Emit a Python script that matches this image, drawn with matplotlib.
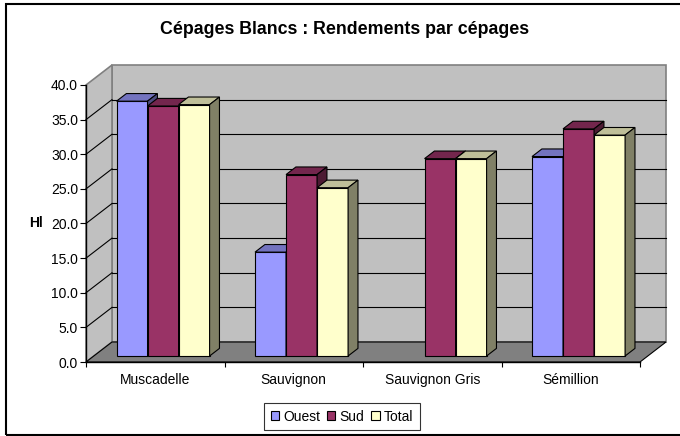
import numpy as np
import matplotlib
matplotlib.use("Agg")
import matplotlib.pyplot as plt
from matplotlib.patches import Polygon, Rectangle, Patch
from matplotlib.transforms import IdentityTransform

plt.rcParams['font.family'] = ['Liberation Sans', 'DejaVu Sans']

# data
categories = ['Muscadelle', 'Sauvignon', 'Sauvignon Gris', 'Sémillion']
series = ['Ouest', 'Sud', 'Total']
ouest = [36.8, 15.0, np.nan, 28.8]
sud = [36.1, 26.2, 28.5, 32.8]
total = [36.3, 24.3, 28.5, 31.9]
yticks = [0, 5, 10, 15, 20, 25, 30, 35, 40]

front_cols = ['#9999FF', '#993366', '#FFFFCC']

# 3d look (pixels, dpi=100)
DX, DY = 26, 20          # depth of the box
F1, F2 = 0.30, 0.68      # bar front / back depth fraction
BW = 0.224               # bar width in category units


def shade(c, k):
    r, g, b = matplotlib.colors.to_rgb(c)
    return (r * k, g * k, b * k)


fig = plt.figure(figsize=(6.8, 4.36), dpi=100)
W, H = 680, 436
ax = fig.add_axes([86 / W, (H - 362) / H, 554 / W, 277 / H])
ax.set_xlim(0, 4)
ax.set_ylim(0, 40)
ax.patch.set_visible(False)

ident = IdentityTransform()


def pt(x, v, f=0.0):
    px, py = ax.transData.transform((x, v))
    return (px + DX * f, py + DY * f)


def poly(pts, fc, ec='black', lw=0.8, z=1):
    ax.add_patch(Polygon(pts, closed=True, facecolor=fc, edgecolor=ec,
                         linewidth=lw, transform=ident, clip_on=False, zorder=z))


def line(p, q, c='black', lw=0.8, z=1.5):
    ax.add_line(plt.Line2D([p[0], q[0]], [p[1], q[1]], color=c, linewidth=lw,
                           transform=ident, clip_on=False, zorder=z))


# walls and floor
poly([pt(0, 0, 1), pt(4, 0, 1), pt(4, 40, 1), pt(0, 40, 1)], '#C0C0C0', ec='#808080', lw=1.2)
poly([pt(0, 0), pt(0, 40), pt(0, 40, 1), pt(0, 0, 1)], '#C0C0C0', ec='#808080', lw=1.2)
for v in yticks[1:-1]:
    line(pt(4, v, 1), pt(0, v, 1))
    line(pt(0, v, 1), pt(0, v))
poly([pt(0, 0), pt(4, 0), pt(4, 0, 1), pt(0, 0, 1)], '#808080', ec='black', lw=0.8, z=1.6)

# bars, painted left to right
z = 2
for i in range(len(categories)):
    for j, vals in enumerate([ouest, sud, total]):
        v = vals[i]
        if np.isnan(v):
            continue
        x0 = i + 0.5 + (j - 1.5) * BW
        x1 = x0 + BW
        c = front_cols[j]
        poly([pt(x0, 0, F1), pt(x1, 0, F1), pt(x1, v, F1), pt(x0, v, F1)], c, z=z)
        poly([pt(x0, v, F1), pt(x1, v, F1), pt(x1, v, F2), pt(x0, v, F2)], shade(c, 0.75), z=z)
        poly([pt(x1, 0, F1), pt(x1, 0, F2), pt(x1, v, F2), pt(x1, v, F1)], shade(c, 0.5), z=z)
        z += 0.01

# axes
for s in ['top', 'right']:
    ax.spines[s].set_visible(False)
for s in ['left', 'bottom']:
    ax.spines[s].set_linewidth(1.0)
    ax.spines[s].set_zorder(5)
ax.set_yticks(yticks)
ax.set_yticklabels(['%.1f' % v for v in yticks], fontsize=10)
ax.tick_params(axis='y', length=4.3, width=0.8, pad=1.5)
ax.set_xticks(range(5))
ax.set_xticklabels([])
ax.set_xticks(np.arange(len(categories)) + 0.5, minor=True)
ax.set_xticklabels(categories, minor=True, fontsize=10)
ax.tick_params(axis='x', which='major', length=3.5, width=0.8)
ax.tick_params(axis='x', which='minor', length=0, pad=8)

fig.text(36 / W, 1 - 223 / H, 'Hl', fontsize=10, fontweight='bold', ha='center', va='center')
fig.text(345 / W, 1 - 30 / H, 'Cépages Blancs : Rendements par cépages',
         fontsize=12.8, fontweight='bold', ha='center', va='center')

handles = [Patch(facecolor=c, edgecolor='black', linewidth=0.8) for c in front_cols]
leg = fig.legend(handles, series, loc='center', bbox_to_anchor=(342 / W, 1 - 416.5 / H),
                 ncol=3, fontsize=10, frameon=True, fancybox=False, handlelength=0.6,
                 handleheight=0.6, handletextpad=0.3, columnspacing=0.5, borderpad=0.5,
                 borderaxespad=0)
leg.get_frame().set_edgecolor('black')
leg.get_frame().set_linewidth(0.8)

# chart border
fig.patches.append(Rectangle((6 / W, 1 / H), 1.0, 1 - 5 / H, transform=fig.transFigure,
                             fill=False, edgecolor='black', linewidth=1.5))

fig.savefig('out.png', dpi=100)
